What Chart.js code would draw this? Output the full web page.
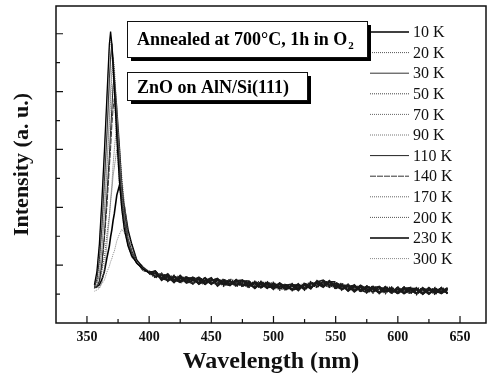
<!DOCTYPE html>
<html lang="en">
<head>
  <meta charset="UTF-8">
  <title>ZnO on AlN/Si(111) PL spectra</title>
  <script src="https://cdn.jsdelivr.net/npm/chart.js"></script>
  <style>
    html, body { margin: 0; padding: 0; background: #fff; }
    .chart-container { position: relative; width: 489px; height: 385px; }
  </style>
</head>
<body>
<div class="chart-container"><canvas id="plChart"></canvas></div>
<script>
  // wavelength grid (nm), shared by all spectra
  const wavelengths = [356, 358, 360, 362, 364, 366, 368, 369, 370, 371, 372, 374, 376, 378, 380, 383, 386, 390, 395, 400,
    405, 410, 415, 420, 425, 430, 435, 440, 445, 450, 455, 460, 465, 470, 475, 480, 485, 490, 495, 500,
    505, 510, 515, 520, 525, 530, 535, 540, 545, 550, 555, 560, 565, 570, 575, 580, 585, 590, 595, 600,
    605, 610, 615, 620, 625, 630, 635, 640];

  const temperatures = ['10 K', '20 K', '30 K', '50 K', '70 K', '90 K', '110 K', '140 K', '170 K', '200 K', '230 K', '300 K'];

  // PL intensity (a.u.)
  const i10K = [0.66, 0.89, 1.37, 2.12, 2.96, 3.89, 4.82, 5.04, 4.83, 4.44, 4.06, 3.21, 2.48, 1.97, 1.63, 1.33, 1.16, 1.04, 0.93, 0.87,
    0.89, 0.76, 0.80, 0.70, 0.82, 0.72, 0.77, 0.68, 0.73, 0.78, 0.64, 0.73, 0.67, 0.74, 0.64, 0.69, 0.60, 0.70, 0.66, 0.59,
    0.69, 0.60, 0.65, 0.56, 0.68, 0.62, 0.69, 0.64, 0.73, 0.60, 0.64, 0.65, 0.54, 0.62, 0.56, 0.63, 0.53, 0.59, 0.53, 0.62,
    0.51, 0.57, 0.59, 0.50, 0.58, 0.53, 0.61, 0.52];
  const i20K = [0.64, 0.86, 1.33, 2.05, 2.92, 3.78, 4.73, 4.92, 4.69, 4.36, 3.95, 3.16, 2.42, 1.96, 1.59, 1.34, 1.13, 1.05, 0.90, 0.88,
    0.81, 0.86, 0.73, 0.78, 0.74, 0.79, 0.67, 0.76, 0.76, 0.68, 0.73, 0.64, 0.75, 0.67, 0.71, 0.62, 0.72, 0.65, 0.61, 0.68,
    0.60, 0.67, 0.56, 0.64, 0.61, 0.71, 0.63, 0.71, 0.62, 0.67, 0.68, 0.58, 0.64, 0.54, 0.64, 0.57, 0.60, 0.51, 0.61, 0.54,
    0.60, 0.51, 0.57, 0.59, 0.51, 0.61, 0.53, 0.59];
  const i30K = [0.61, 0.76, 1.10, 1.66, 2.45, 3.25, 4.22, 4.60, 4.83, 4.61, 4.28, 3.47, 2.74, 2.10, 1.77, 1.37, 1.21, 1.02, 0.95, 0.85,
    0.86, 0.78, 0.85, 0.73, 0.79, 0.69, 0.74, 0.79, 0.68, 0.74, 0.76, 0.67, 0.65, 0.73, 0.74, 0.65, 0.68, 0.61, 0.70, 0.65,
    0.59, 0.65, 0.67, 0.59, 0.65, 0.60, 0.71, 0.74, 0.65, 0.68, 0.59, 0.63, 0.65, 0.57, 0.53, 0.61, 0.63, 0.55, 0.57, 0.52,
    0.59, 0.61, 0.52, 0.58, 0.50, 0.59, 0.54, 0.61];
  const i50K = [0.63, 0.73, 1.06, 1.65, 2.36, 3.22, 4.08, 4.53, 4.71, 4.49, 4.18, 3.39, 2.69, 2.06, 1.74, 1.35, 1.19, 1.02, 0.94, 0.86,
    0.79, 0.83, 0.76, 0.81, 0.69, 0.76, 0.76, 0.69, 0.78, 0.71, 0.66, 0.74, 0.72, 0.63, 0.69, 0.72, 0.63, 0.68, 0.69, 0.58,
    0.66, 0.61, 0.58, 0.67, 0.57, 0.67, 0.65, 0.72, 0.68, 0.59, 0.66, 0.59, 0.62, 0.64, 0.54, 0.55, 0.59, 0.62, 0.51, 0.59,
    0.54, 0.60, 0.50, 0.57, 0.60, 0.51, 0.58, 0.52];
  const i70K = [0.60, 0.67, 0.85, 1.31, 1.95, 2.75, 3.55, 4.02, 4.38, 4.60, 4.43, 3.70, 2.98, 2.29, 1.87, 1.41, 1.22, 1.03, 0.95, 0.86,
    0.88, 0.81, 0.73, 0.79, 0.81, 0.70, 0.71, 0.78, 0.69, 0.75, 0.72, 0.65, 0.76, 0.71, 0.64, 0.71, 0.64, 0.61, 0.68, 0.70,
    0.61, 0.57, 0.66, 0.63, 0.69, 0.61, 0.72, 0.66, 0.62, 0.70, 0.61, 0.67, 0.57, 0.60, 0.62, 0.52, 0.62, 0.58, 0.52, 0.60,
    0.53, 0.62, 0.56, 0.52, 0.57, 0.60, 0.51, 0.57];
  const i90K = [0.63, 0.65, 0.86, 1.25, 1.93, 2.62, 3.46, 3.84, 4.25, 4.43, 4.23, 3.61, 2.84, 2.26, 1.78, 1.42, 1.16, 1.06, 0.91, 0.88,
    0.82, 0.85, 0.81, 0.72, 0.77, 0.80, 0.68, 0.74, 0.69, 0.77, 0.65, 0.72, 0.74, 0.66, 0.73, 0.63, 0.69, 0.72, 0.60, 0.66,
    0.67, 0.59, 0.63, 0.68, 0.60, 0.68, 0.62, 0.70, 0.72, 0.62, 0.69, 0.57, 0.61, 0.63, 0.53, 0.60, 0.54, 0.61, 0.62, 0.51,
    0.58, 0.53, 0.60, 0.54, 0.59, 0.50, 0.59, 0.56];
  const i110K = [0.61, 0.63, 0.72, 1.04, 1.51, 2.21, 2.89, 3.33, 3.69, 4.10, 4.26, 3.75, 3.13, 2.43, 1.95, 1.46, 1.25, 1.04, 0.96, 0.86,
    0.90, 0.77, 0.74, 0.80, 0.73, 0.77, 0.78, 0.67, 0.74, 0.68, 0.75, 0.71, 0.66, 0.75, 0.66, 0.64, 0.71, 0.62, 0.67, 0.62,
    0.68, 0.64, 0.57, 0.60, 0.67, 0.59, 0.73, 0.65, 0.70, 0.64, 0.58, 0.66, 0.56, 0.65, 0.59, 0.54, 0.63, 0.54, 0.58, 0.51,
    0.61, 0.58, 0.51, 0.61, 0.52, 0.56, 0.51, 0.60];
  const i140K = [0.62, 0.61, 0.73, 0.96, 1.45, 2.00, 2.69, 3.01, 3.41, 3.70, 3.88, 3.47, 2.84, 2.29, 1.78, 1.42, 1.16, 1.05, 0.90, 0.88,
    0.80, 0.82, 0.83, 0.71, 0.78, 0.71, 0.79, 0.75, 0.67, 0.73, 0.77, 0.66, 0.73, 0.64, 0.72, 0.73, 0.62, 0.67, 0.60, 0.69,
    0.62, 0.66, 0.59, 0.67, 0.58, 0.66, 0.70, 0.63, 0.71, 0.71, 0.60, 0.59, 0.66, 0.55, 0.61, 0.63, 0.52, 0.56, 0.61, 0.53,
    0.62, 0.52, 0.58, 0.51, 0.61, 0.52, 0.60, 0.51];
  const i170K = [0.60, 0.63, 0.61, 0.71, 0.92, 1.35, 1.81, 2.13, 2.38, 2.73, 3.00, 3.44, 3.09, 2.54, 2.08, 1.50, 1.25, 1.03, 0.96, 0.85,
    0.87, 0.75, 0.79, 0.82, 0.72, 0.78, 0.69, 0.76, 0.77, 0.67, 0.73, 0.75, 0.68, 0.70, 0.63, 0.70, 0.70, 0.63, 0.71, 0.60,
    0.65, 0.57, 0.68, 0.61, 0.66, 0.70, 0.62, 0.70, 0.63, 0.69, 0.65, 0.56, 0.63, 0.57, 0.64, 0.54, 0.58, 0.60, 0.52, 0.62,
    0.55, 0.51, 0.61, 0.58, 0.51, 0.58, 0.58, 0.51];
  const i200K = [0.62, 0.64, 0.70, 0.89, 1.14, 1.52, 1.86, 2.09, 2.29, 2.54, 2.69, 3.00, 2.80, 2.40, 2.07, 1.57, 1.33, 1.08, 0.99, 0.88,
    0.83, 0.84, 0.72, 0.78, 0.80, 0.72, 0.68, 0.79, 0.70, 0.75, 0.68, 0.76, 0.65, 0.72, 0.69, 0.61, 0.70, 0.69, 0.62, 0.66,
    0.57, 0.65, 0.64, 0.58, 0.68, 0.63, 0.64, 0.73, 0.69, 0.60, 0.67, 0.62, 0.55, 0.64, 0.55, 0.62, 0.51, 0.60, 0.61, 0.54,
    0.57, 0.61, 0.49, 0.59, 0.58, 0.49, 0.61, 0.57];
  const i230K = [0.61, 0.63, 0.66, 0.75, 0.89, 1.12, 1.33, 1.49, 1.61, 1.77, 1.89, 2.21, 2.37, 2.20, 2.01, 1.61, 1.36, 1.09, 0.96, 0.88,
    0.89, 0.74, 0.82, 0.75, 0.71, 0.79, 0.75, 0.70, 0.78, 0.67, 0.75, 0.68, 0.72, 0.65, 0.74, 0.68, 0.61, 0.71, 0.62, 0.62,
    0.69, 0.58, 0.65, 0.66, 0.58, 0.69, 0.68, 0.62, 0.72, 0.64, 0.66, 0.55, 0.64, 0.56, 0.63, 0.59, 0.52, 0.63, 0.54, 0.58,
    0.51, 0.59, 0.60, 0.51, 0.57, 0.59, 0.52, 0.58];
  const i300K = [0.55, 0.57, 0.60, 0.68, 0.74, 0.88, 0.98, 1.06, 1.11, 1.19, 1.24, 1.42, 1.53, 1.62, 1.56, 1.43, 1.25, 1.10, 0.95, 0.90,
    0.78, 0.83, 0.76, 0.82, 0.71, 0.75, 0.78, 0.70, 0.67, 0.76, 0.69, 0.75, 0.66, 0.71, 0.66, 0.72, 0.60, 0.70, 0.70, 0.61,
    0.64, 0.67, 0.58, 0.65, 0.60, 0.71, 0.62, 0.69, 0.65, 0.69, 0.57, 0.66, 0.59, 0.61, 0.52, 0.63, 0.60, 0.53, 0.60, 0.51,
    0.62, 0.54, 0.58, 0.50, 0.60, 0.52, 0.61, 0.50];

  const spectra = [i10K, i20K, i30K, i50K, i70K, i90K, i110K, i140K, i170K, i200K, i230K, i300K];

  const xTicks = [350, 400, 450, 500, 550, 600, 650];
  const xMinorTicks = [375, 425, 475, 525, 575, 625];
  const yTicks = [1, 2, 3, 4, 5];
  const yMinorTicks = [0.5, 1.5, 2.5, 3.5, 4.5];

  // line look of each temperature (colour, width, dash)
  const lineStyles = [
    ['#000', 1.3, []], ['#555', 1, [1, 1]], ['#333', 1, []], ['#444', 1, [1, 1]],
    ['#666', 1, [1, 1]], ['#777', 1, [1, 1]], ['#222', 1, []], ['#333', 1, [6, 1]],
    ['#666', 1, [1, 1]], ['#555', 1, [1, 1]], ['#000', 1.6, []], ['#888', 1, [1, 1]]
  ];

  const serif = '"Liberation Serif", "DejaVu Serif", serif';

  // the noisy background above 400 nm looks like a dense dark band in the print
  const tailStart = 400;

  const datasets = temperatures.map((t, k) => ({
    label: t,
    data: wavelengths.map((w, i) => ({ x: w, y: spectra[k][i] })),
    borderColor: lineStyles[k][0],
    borderWidth: lineStyles[k][1],
    borderDash: lineStyles[k][2],
    pointRadius: 0,
    tension: 0,
    fill: false,
    segment: {
      borderWidth: c => c.p0.parsed.x >= tailStart ? 1.7 : undefined,
      borderColor: c => c.p0.parsed.x >= tailStart ? '#1a1a1a' : undefined
    }
  }));

  // frame, inward ticks, legend and text boxes
  const decorPlugin = {
    id: 'decor',
    afterDatasetsDraw(chart) {
      const { ctx, chartArea: a, scales: { x, y } } = chart;
      ctx.save();
      ctx.setLineDash([]);
      ctx.strokeStyle = '#111';
      ctx.lineWidth = 1.5;
      ctx.strokeRect(a.left, a.top, a.right - a.left, a.bottom - a.top);

      ctx.lineWidth = 1.2;
      ctx.beginPath();
      xTicks.forEach(v => { const p = x.getPixelForValue(v); ctx.moveTo(p, a.bottom); ctx.lineTo(p, a.bottom - 7); });
      xMinorTicks.forEach(v => { const p = x.getPixelForValue(v); ctx.moveTo(p, a.bottom); ctx.lineTo(p, a.bottom - 4); });
      yTicks.forEach(v => { const p = y.getPixelForValue(v); ctx.moveTo(a.left, p); ctx.lineTo(a.left + 7, p); });
      yMinorTicks.forEach(v => { const p = y.getPixelForValue(v); ctx.moveTo(a.left, p); ctx.lineTo(a.left + 4, p); });
      ctx.stroke();

      // legend
      ctx.font = '16px ' + serif;
      ctx.textBaseline = 'middle';
      ctx.fillStyle = '#111';
      chart.data.datasets.forEach((ds, k) => {
        const ly = 32 + k * 20.6;
        ctx.strokeStyle = ds.borderColor;
        ctx.lineWidth = ds.borderWidth;
        ctx.setLineDash(ds.borderDash);
        ctx.beginPath();
        ctx.moveTo(370, ly);
        ctx.lineTo(409, ly);
        ctx.stroke();
        ctx.fillText(ds.label, 413, ly + 1);
      });
      ctx.setLineDash([]);

      // text boxes with drop shadow
      const box = (bx, by, bw, bh) => {
        ctx.fillStyle = '#000';
        ctx.fillRect(bx + 4, by + 4, bw, bh);
        ctx.fillStyle = '#fff';
        ctx.fillRect(bx, by, bw, bh);
        ctx.strokeStyle = '#111';
        ctx.lineWidth = 1;
        ctx.strokeRect(bx + 0.5, by + 0.5, bw, bh);
      };
      box(127, 21, 240, 36);
      box(127, 72, 180, 28);

      ctx.fillStyle = '#000';
      ctx.textBaseline = 'alphabetic';
      ctx.font = 'bold 18px ' + serif;
      const t1 = 'Annealed at 700°C, 1h in O';
      ctx.fillText(t1, 137, 45);
      const w1 = ctx.measureText(t1).width;
      ctx.font = 'bold 11px ' + serif;
      ctx.fillText('2', 137 + w1 + 1, 49);
      ctx.font = 'bold 18px ' + serif;
      ctx.fillText('ZnO on AlN/Si(111)', 137, 93);
      ctx.restore();
    }
  };

  const ctx = document.getElementById('plChart').getContext('2d');
  new Chart(ctx, {
    type: 'line',
    data: { datasets: datasets },
    options: {
      responsive: true,
      maintainAspectRatio: false,
      animation: false,
      devicePixelRatio: 1,
      layout: { padding: { top: 6, right: 3, left: 0, bottom: 0 } },
      plugins: { legend: { display: false }, tooltip: { enabled: false } },
      scales: {
        x: {
          type: 'linear',
          min: 325.1,
          max: 670.9,
          afterBuildTicks: s => { s.ticks = xTicks.map(v => ({ value: v })); },
          afterFit: s => { s.height = 62; },
          grid: { display: false, drawTicks: false },
          border: { display: false },
          ticks: { color: '#111', padding: 6, maxRotation: 0, font: { family: serif, size: 14, weight: 'bold' } },
          title: { display: true, text: 'Wavelength (nm)', color: '#111', padding: { top: 0, bottom: 9 },
            font: { family: serif, size: 24, weight: 'bold' } }
        },
        y: {
          min: 0,
          max: 5.48,
          afterFit: s => { s.width = 56; },
          grid: { display: false, drawTicks: false },
          border: { display: false },
          ticks: { display: false },
          title: { display: true, text: 'Intensity (a. u.)', color: '#111', padding: { top: 9, bottom: 0 },
            font: { family: serif, size: 22, weight: 'bold' } }
        }
      }
    },
    plugins: [decorPlugin]
  });
</script>
</body>
</html>
